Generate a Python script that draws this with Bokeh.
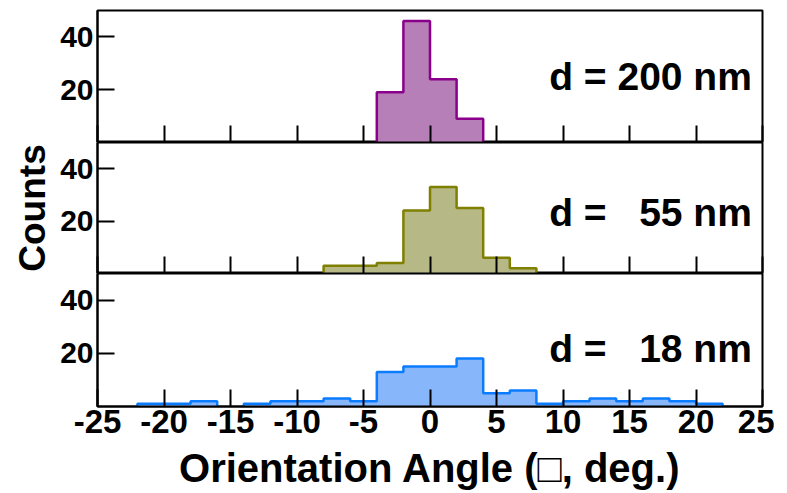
import numpy as np
from bokeh.plotting import figure
from bokeh.layouts import column
from bokeh.models import Range1d, FixedTicker, Label
from bokeh.embed import file_html
from bokeh.resources import INLINE

# ---- data ----
edges_200 = [-4, -2, 0, 2, 4]
counts_200 = [19, 46, 24, 9]

edges_55 = [-8, -6, -4, -2, 0, 2, 4, 6, 8]
counts_55 = [3, 3, 4, 24, 33, 25, 6, 2]

edges_18 = [-22, -20, -18, -16, -14, -12, -10, -8, -6, -4, -2, 0, 2, 4, 6, 8,
            10, 12, 14, 16, 18, 20, 22]
counts_18 = [1, 1, 2, 0, 1, 2, 2, 3, 2, 13, 15, 15, 18, 5, 6, 1, 2, 3, 2, 3, 2, 1]

NB = "\u00a0"
labels = ["d = 200 nm", "d =" + NB * 3 + "55 nm", "d =" + NB * 3 + "18 nm"]
label_y = [25.0, 23.3, 21.8]
x_ticks = [-25, -20, -15, -10, -5, 0, 5, 10, 15, 20, 25]
x_tick_labels = ["-25", "-20", "-15", "-10", "-5", "0", "5", "10", "15", "20", "25"]
y_ticks = [20, 40]

fills = ["#b77fb7", "#b6b886", "#88b6fa"]
strokes = ["#8b008b", "#7f7f00", "#0a7cff"]

FONT = "Liberation Sans"


def patch_path(edges, counts):
    xs = np.repeat(np.asarray(edges, dtype=float), 2)
    ys = np.concatenate([[0.0], np.repeat(np.asarray(counts, dtype=float), 2), [0.0]])
    return xs, ys


def line_path(edges, counts):
    xs = [edges[0]]
    ys = [0.0]
    for i, c in enumerate(counts):
        if c == 0:
            xs += [edges[i], np.nan, edges[i + 1]]
            ys += [0.0, np.nan, 0.0]
        else:
            xs += [edges[i], edges[i + 1]]
            ys += [c, c]
    xs.append(edges[-1])
    ys.append(0.0)
    return xs, ys


def make_panel(edges, counts, fill, stroke, text, ty, frame_h, top_border, is_bottom, show_ylabel):
    p = figure(frame_width=665, frame_height=frame_h, output_backend="svg",
               toolbar_location=None, x_range=Range1d(-25, 25), y_range=Range1d(0, 50),
               min_border_left=97, min_border_right=12, min_border_top=top_border,
               min_border_bottom=0)
    p.grid.visible = False
    p.background_fill_color = "white"
    p.border_fill_color = "white"
    p.outline_line_color = "black"
    p.outline_line_width = 2

    px, py = patch_path(edges, counts)
    p.patch(px, py, fill_color=fill, line_color=None)
    lx, ly = line_path(edges, counts)
    p.line(lx, ly, line_color=stroke, line_width=2.5)

    p.add_layout(Label(x=24.2, y=ty, text=text, text_align="right",
                       text_baseline="alphabetic", text_font=FONT,
                       text_font_size="39px", text_font_style="bold",
                       text_color="black"))

    # y axis
    ya = p.yaxis[0]
    ya.ticker = FixedTicker(ticks=y_ticks)
    ya.minor_tick_line_color = None
    ya.major_tick_in = 17
    ya.major_tick_out = 0
    ya.major_tick_line_width = 2
    ya.axis_line_width = 2
    ya.major_label_standoff = 4
    ya.major_label_text_font = FONT
    ya.major_label_text_font_size = "30px"
    ya.major_label_text_font_style = "bold"
    ya.major_label_text_color = "black"
    if show_ylabel:
        ya.axis_label = "Counts"
        ya.axis_label_text_font = FONT
        ya.axis_label_text_font_size = "37px"
        ya.axis_label_text_font_style = "bold"
        ya.axis_label_text_color = "black"
        ya.axis_label_standoff = 4

    # x axis
    xa = p.xaxis[0]
    xa.ticker = FixedTicker(ticks=x_ticks)
    xa.minor_tick_line_color = None
    xa.major_tick_in = 17
    xa.major_tick_out = 0
    xa.major_tick_line_width = 2
    xa.axis_line_width = 2
    if is_bottom:
        xa.major_label_overrides = {t: s for t, s in zip(x_ticks, x_tick_labels)}
        xa.major_label_standoff = 3
        xa.major_label_text_font = FONT
        xa.major_label_text_font_size = "33px"
        xa.major_label_text_font_style = "bold"
        xa.major_label_text_color = "black"
        xa.axis_label = "Orientation Angle (\u25a1, deg.)"
        xa.axis_label_text_font = FONT
        xa.axis_label_text_font_size = "40px"
        xa.axis_label_text_font_style = "bold"
        xa.axis_label_text_color = "black"
        xa.axis_label_standoff = 10
        p.min_border_bottom = 4
    else:
        xa.major_label_overrides = {t: "" for t in x_ticks}
        xa.major_label_text_font_size = "1px"
        xa.major_label_standoff = 0
    return p


p1 = make_panel(edges_200, counts_200, fills[0], strokes[0], labels[0], label_y[0], 132, 10, False, False)
p2 = make_panel(edges_55, counts_55, fills[1], strokes[1], labels[1], label_y[1], 131, 0, False, True)
p3 = make_panel(edges_18, counts_18, fills[2], strokes[2], labels[2], label_y[2], 133, 0, True, False)

layout = column(p1, p2, p3, spacing=0)

open("out.html", "w").write(file_html(layout, INLINE))
